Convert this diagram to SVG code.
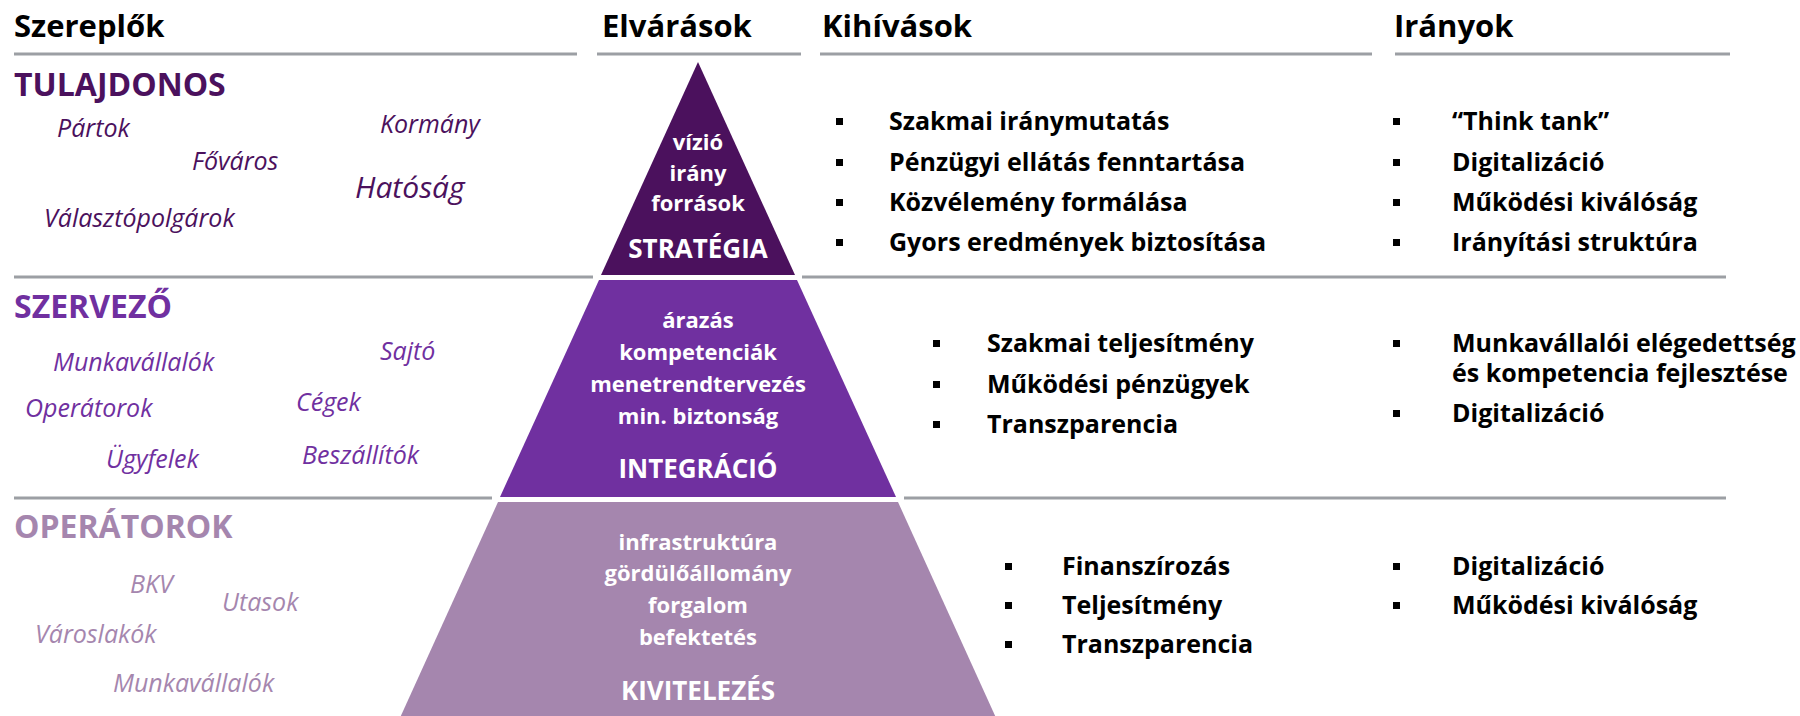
<svg xmlns="http://www.w3.org/2000/svg" width="1800" height="716" viewBox="0 0 1800 716">
<style>
.hdr{font-family:"Open Sans","Noto Sans",sans-serif;font-weight:700;font-size:31px;fill:#000}
.ttl{font-family:"Open Sans","Noto Sans",sans-serif;font-weight:700;font-size:32px}
.nm{font-family:"Open Sans","Noto Sans",sans-serif;font-style:italic;font-size:25px}
.c1{fill:#4b115d}.c2{fill:#7030a0}.c3{fill:#a586ae}
.pt{font-family:"Open Sans","Noto Sans",sans-serif;font-weight:700;font-size:22px;fill:#fff;text-anchor:middle}
.pT{font-family:"Open Sans","Noto Sans",sans-serif;font-weight:700;font-size:26px;fill:#fff;text-anchor:middle}
.bt{font-family:"Open Sans","Noto Sans",sans-serif;font-weight:700;font-size:25px;fill:#000}
.ln{stroke:#9c9fa4;stroke-width:3;fill:none}
.bl{fill:#000}
</style>
<rect width="1800" height="716" fill="#fff"/>
<g id="headers">
<text class="hdr" x="14" y="37">Szereplők</text>
<text class="hdr" x="602" y="37">Elvárások</text>
<text class="hdr" x="822" y="37">Kihívások</text>
<text class="hdr" x="1394" y="37">Irányok</text>
</g>
<g id="lines">
<line class="ln" x1="14" y1="54" x2="577" y2="54"/>
<line class="ln" x1="597" y1="54" x2="801" y2="54"/>
<line class="ln" x1="820" y1="54" x2="1372" y2="54"/>
<line class="ln" x1="1395" y1="54" x2="1730" y2="54"/>
<line class="ln" x1="14" y1="277" x2="593" y2="277"/>
<line class="ln" x1="802" y1="277" x2="1726" y2="277"/>
<line class="ln" x1="14" y1="498" x2="492" y2="498"/>
<line class="ln" x1="904" y1="498" x2="1726" y2="498"/>
</g>
<g id="pyramid-top">
<polygon points="698,62 795,275 601,275" fill="#4b115d"/>
<text class="pt" x="698" y="150">vízió</text>
<text class="pt" x="698" y="181">irány</text>
<text class="pt" x="698" y="211">források</text>
<text class="pT" x="698" y="258">STRATÉGIA</text>
</g>
<g id="pyramid-middle">
<polygon points="599,280 797,280 896,497 500,497" fill="#7030a0"/>
<text class="pt" x="698" y="328">árazás</text>
<text class="pt" x="698" y="360">kompetenciák</text>
<text class="pt" x="698" y="392">menetrendtervezés</text>
<text class="pt" x="698" y="424">min. biztonság</text>
<text class="pT" x="698" y="478">INTEGRÁCIÓ</text>
</g>
<g id="pyramid-bottom">
<polygon points="498,502 898,502 997,720 399,720" fill="#a586ae"/>
<text class="pt" x="698" y="550">infrastruktúra</text>
<text class="pt" x="698" y="581">gördülőállomány</text>
<text class="pt" x="698" y="613">forgalom</text>
<text class="pt" x="698" y="645">befektetés</text>
<text class="pT" x="698" y="700">KIVITELEZÉS</text>
</g>
<g id="tulajdonos">
<text class="ttl c1" x="14" y="96">TULAJDONOS</text>
<text class="nm c1" x="57" y="137">Pártok</text>
<text class="nm c1" x="380" y="133">Kormány</text>
<text class="nm c1" x="192" y="170">Főváros</text>
<text class="nm c1" x="355" y="198" style="font-size:30px">Hatóság</text>
<text class="nm c1" x="44" y="227">Választópolgárok</text>
</g>
<g id="szervezo">
<text class="ttl c2" x="14" y="318">SZERVEZŐ</text>
<text class="nm c2" x="53" y="371">Munkavállalók</text>
<text class="nm c2" x="380" y="360">Sajtó</text>
<text class="nm c2" x="25" y="417">Operátorok</text>
<text class="nm c2" x="296" y="411">Cégek</text>
<text class="nm c2" x="106" y="468">Ügyfelek</text>
<text class="nm c2" x="302" y="464">Beszállítók</text>
</g>
<g id="operatorok">
<text class="ttl c3" x="14" y="538">OPERÁTOROK</text>
<text class="nm c3" x="130" y="593">BKV</text>
<text class="nm c3" x="222" y="611">Utasok</text>
<text class="nm c3" x="35" y="643">Városlakók</text>
<text class="nm c3" x="113" y="692">Munkavállalók</text>
</g>
<g id="kihivasok-top">
<rect class="bl" x="836" y="118" width="7" height="7"/>
<rect class="bl" x="836" y="159" width="7" height="7"/>
<rect class="bl" x="836" y="199" width="7" height="7"/>
<rect class="bl" x="836" y="239" width="7" height="7"/>
<text class="bt" x="889" y="130">Szakmai iránymutatás</text>
<text class="bt" x="889" y="171">Pénzügyi ellátás fenntartása</text>
<text class="bt" x="889" y="211">Közvélemény formálása</text>
<text class="bt" x="889" y="251">Gyors eredmények biztosítása</text>
</g>
<g id="iranyok-top">
<rect class="bl" x="1393" y="118" width="7" height="7"/>
<rect class="bl" x="1393" y="159" width="7" height="7"/>
<rect class="bl" x="1393" y="199" width="7" height="7"/>
<rect class="bl" x="1393" y="239" width="7" height="7"/>
<text class="bt" x="1452" y="130">“Think tank”</text>
<text class="bt" x="1452" y="171">Digitalizáció</text>
<text class="bt" x="1452" y="211">Működési kiválóság</text>
<text class="bt" x="1452" y="251">Irányítási struktúra</text>
</g>
<g id="kihivasok-middle">
<rect class="bl" x="933" y="340" width="7" height="7"/>
<rect class="bl" x="933" y="381" width="7" height="7"/>
<rect class="bl" x="933" y="421" width="7" height="7"/>
<text class="bt" x="987" y="352">Szakmai teljesítmény</text>
<text class="bt" x="987" y="393">Működési pénzügyek</text>
<text class="bt" x="987" y="433">Transzparencia</text>
</g>
<g id="iranyok-middle">
<rect class="bl" x="1393" y="340" width="7" height="7"/>
<rect class="bl" x="1393" y="410" width="7" height="7"/>
<text class="bt" x="1452" y="352">Munkavállalói elégedettség</text>
<text class="bt" x="1452" y="382">és kompetencia fejlesztése</text>
<text class="bt" x="1452" y="422">Digitalizáció</text>
</g>
<g id="kihivasok-bottom">
<rect class="bl" x="1005" y="563" width="7" height="7"/>
<rect class="bl" x="1005" y="602" width="7" height="7"/>
<rect class="bl" x="1005" y="641" width="7" height="7"/>
<text class="bt" x="1062" y="575">Finanszírozás</text>
<text class="bt" x="1062" y="614">Teljesítmény</text>
<text class="bt" x="1062" y="653">Transzparencia</text>
</g>
<g id="iranyok-bottom">
<rect class="bl" x="1393" y="563" width="7" height="7"/>
<rect class="bl" x="1393" y="602" width="7" height="7"/>
<text class="bt" x="1452" y="575">Digitalizáció</text>
<text class="bt" x="1452" y="614">Működési kiválóság</text>
</g>
</svg>
